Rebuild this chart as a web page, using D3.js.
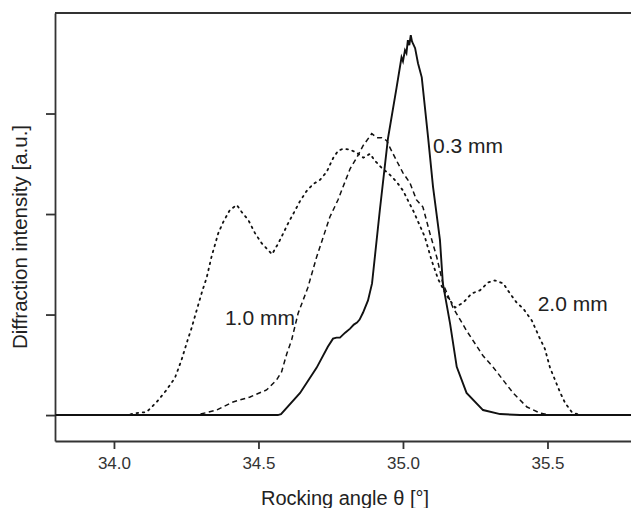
<!DOCTYPE html>
<html>
<head>
<meta charset="utf-8">
<script src="https://cdn.jsdelivr.net/npm/d3@7"></script>
<style>
  body { margin: 0; background: #fff; }
  svg { display: block; font-family: "Liberation Sans", Arial, sans-serif; }
  .axis path, .axis line { stroke: #333; stroke-width: 1.8; }
  .axis text { fill: #333; font-size: 17px; }
  .curve { fill: none; stroke: #111; }
</style>
</head>
<body>
<div id="chart"><svg width="631" height="508"></svg></div>
<script>
// angle (deg) and intensity (a.u.)
const angle03 = [33.8, 34.567, 34.578, 34.644, 34.701, 34.74, 34.758, 34.77, 34.782, 34.8, 34.817, 34.83, 34.841, 34.85, 34.862, 34.879, 34.893, 34.92, 34.948, 34.978, 34.995, 35.0, 35.007, 35.012, 35.017, 35.022, 35.027, 35.031, 35.034, 35.042, 35.052, 35.065, 35.087, 35.104, 35.128, 35.138, 35.163, 35.186, 35.22, 35.277, 35.336, 35.405, 35.8];
const value03 = [0, 0, 0.01, 0.22, 0.47, 0.68, 0.76, 0.77, 0.77, 0.82, 0.86, 0.9, 0.92, 0.95, 1.02, 1.14, 1.31, 2.04, 2.75, 3.26, 3.56, 3.52, 3.63, 3.6, 3.73, 3.68, 3.78, 3.72, 3.7, 3.65, 3.5, 3.36, 2.76, 2.27, 1.74, 1.31, 0.91, 0.48, 0.22, 0.05, 0.01, 0, 0];

const angle10 = [33.8, 34.286, 34.355, 34.412, 34.471, 34.528, 34.563, 34.58, 34.598, 34.615, 34.626, 34.637, 34.671, 34.701, 34.747, 34.775, 34.817, 34.84, 34.862, 34.892, 34.909, 34.926, 34.944, 34.955, 34.978, 35.0, 35.024, 35.047, 35.069, 35.093, 35.117, 35.138, 35.173, 35.22, 35.277, 35.311, 35.346, 35.381, 35.429, 35.474, 35.51, 35.8];
const value10 = [0, 0, 0.05, 0.13, 0.18, 0.25, 0.35, 0.43, 0.61, 0.75, 0.88, 1.01, 1.27, 1.57, 1.97, 2.14, 2.45, 2.56, 2.68, 2.8, 2.76, 2.76, 2.73, 2.66, 2.53, 2.41, 2.31, 2.14, 2.07, 1.81, 1.57, 1.31, 1.07, 0.84, 0.59, 0.48, 0.35, 0.22, 0.08, 0.02, 0, 0];

const angle20 = [33.8, 34.044, 34.079, 34.113, 34.148, 34.182, 34.211, 34.234, 34.252, 34.269, 34.286, 34.303, 34.321, 34.338, 34.361, 34.378, 34.401, 34.425, 34.442, 34.465, 34.488, 34.511, 34.534, 34.547, 34.569, 34.586, 34.603, 34.62, 34.644, 34.667, 34.69, 34.713, 34.736, 34.759, 34.776, 34.793, 34.817, 34.84, 34.863, 34.886, 34.903, 34.926, 34.955, 34.978, 35.001, 35.018, 35.036, 35.053, 35.076, 35.099, 35.122, 35.151, 35.18, 35.209, 35.238, 35.266, 35.295, 35.318, 35.347, 35.37, 35.393, 35.416, 35.446, 35.474, 35.491, 35.509, 35.526, 35.543, 35.561, 35.584, 35.612, 35.8];
const value20 = [0, 0, 0.02, 0.03, 0.13, 0.25, 0.37, 0.55, 0.72, 0.87, 1.04, 1.21, 1.37, 1.58, 1.81, 1.92, 2.04, 2.09, 2.02, 1.94, 1.81, 1.71, 1.64, 1.6, 1.71, 1.81, 1.91, 2.0, 2.13, 2.23, 2.3, 2.34, 2.42, 2.56, 2.63, 2.65, 2.64, 2.61, 2.56, 2.6, 2.53, 2.46, 2.39, 2.32, 2.23, 2.13, 2.03, 1.92, 1.77, 1.54, 1.35, 1.19, 1.07, 1.12, 1.21, 1.24, 1.32, 1.34, 1.31, 1.21, 1.12, 1.06, 0.94, 0.76, 0.66, 0.47, 0.35, 0.23, 0.12, 0.03, 0, 0];

const xTicks = [34.0, 34.5, 35.0, 35.5];
const yTicks = [0, 1, 2, 3];

const series = [
  { name: "0.3 mm", angle: angle03, value: value03, dash: null, width: 1.9, label: [35.104, 2.61] },
  { name: "1.0 mm", angle: angle10, value: value10, dash: "5,3.5", width: 1.5, label: [34.384, 0.9] },
  { name: "2.0 mm", angle: angle20, value: value20, dash: "1.6,4.6", width: 1.8, label: [35.466, 1.04] },
];

const svg = d3.select("#chart").select("svg");
const plotLeft = 55;
const plotRight = 631;
const plotTop = 13;
const plotBottom = 441;

const xScale = d3.scaleLinear().domain([33.796, 35.789]).range([plotLeft, plotRight]);
const yScale = d3.scaleLinear().domain([-0.258, 4.0]).range([plotBottom, plotTop]);

// frame: top line plus the two axes
svg
  .append("line")
  .attr("x1", plotLeft)
  .attr("x2", plotRight)
  .attr("y1", plotTop)
  .attr("y2", plotTop)
  .attr("stroke", "#333")
  .attr("stroke-width", 1.8);

const xAxis = d3
  .axisBottom(xScale)
  .tickValues(xTicks)
  .tickFormat(d3.format(".1f"))
  .tickSizeInner(8)
  .tickSizeOuter(0)
  .tickPadding(8);

const yAxis = d3
  .axisLeft(yScale)
  .tickValues(yTicks)
  .tickFormat("")
  .tickSizeInner(9)
  .tickSizeOuter(0);

svg
  .append("g")
  .attr("class", "axis x-axis")
  .attr("transform", `translate(0, ${plotBottom})`)
  .call(xAxis);

svg
  .append("g")
  .attr("class", "axis y-axis")
  .attr("transform", `translate(${plotLeft}, 0)`)
  .call(yAxis);

const line = d3
  .line()
  .x((d) => xScale(d[0]))
  .y((d) => yScale(d[1]));

// dotted and dashed first, solid on top
series
  .slice()
  .reverse()
  .forEach((s) => {
    const pts = s.angle.map((a, i) => [a, s.value[i]]);
    svg
      .append("path")
      .datum(pts)
      .attr("class", "curve")
      .attr("stroke-width", s.width)
      .attr("stroke-linecap", s.dash === "1.6,4.6" ? "round" : "butt")
      .attr("stroke-dasharray", s.dash)
      .attr("d", line);
  });

svg
  .selectAll(".series-label")
  .data(series)
  .enter()
  .append("text")
  .attr("class", "series-label")
  .attr("x", (d) => xScale(d.label[0]))
  .attr("y", (d) => yScale(d.label[1]))
  .attr("fill", "#222")
  .attr("font-size", 21)
  .text((d) => d.name);

svg
  .append("text")
  .attr("x", 345)
  .attr("y", 505)
  .attr("text-anchor", "middle")
  .attr("fill", "#222")
  .attr("font-size", 20)
  .text("Rocking angle θ [°]");

svg
  .append("text")
  .attr("transform", "rotate(-90)")
  .attr("x", -237)
  .attr("y", 27)
  .attr("text-anchor", "middle")
  .attr("fill", "#222")
  .attr("font-size", 20.5)
  .text("Diffraction intensity [a.u.]");
</script>
</body>
</html>
